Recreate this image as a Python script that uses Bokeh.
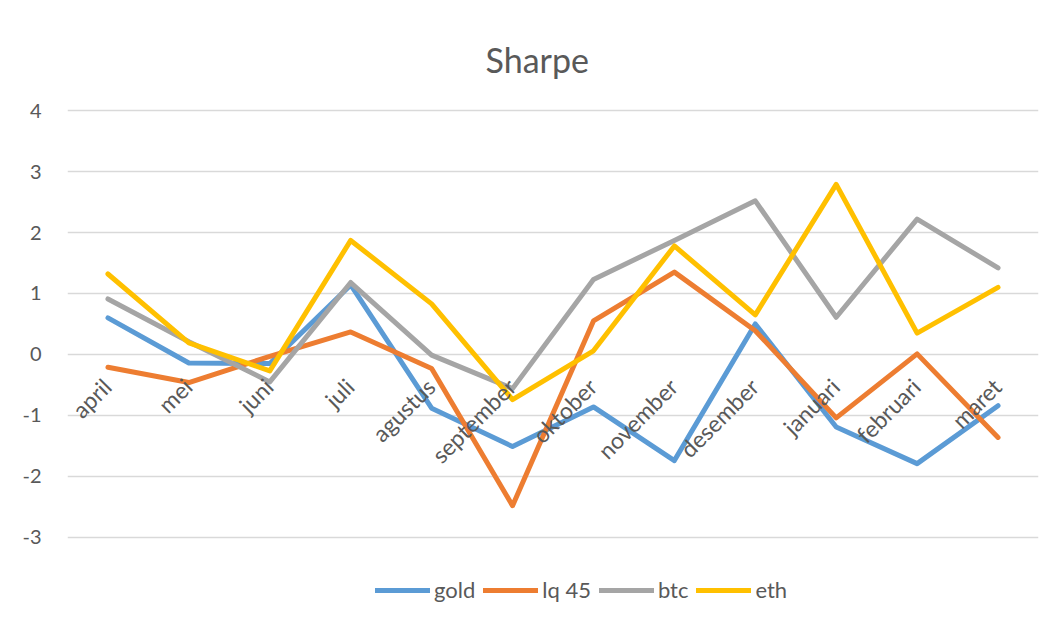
import math
from bokeh.plotting import figure
from bokeh.models import Range1d, FactorRange, Legend, LegendItem, FixedTicker
from bokeh.core.properties import value
from bokeh.embed import file_html
from bokeh.resources import INLINE

months = ["april", "mei", "juni", "juli", "agustus", "september", "oktober",
          "november", "desember", "januari", "februari", "maret"]
gold = [0.60, -0.14, -0.15, 1.14, -0.88, -1.51, -0.86, -1.74, 0.50, -1.19, -1.79, -0.84]
lq45 = [-0.21, -0.46, -0.03, 0.37, -0.23, -2.48, 0.55, 1.35, 0.39, -1.04, 0.01, -1.36]
btc = [0.91, 0.21, -0.45, 1.18, -0.01, -0.56, 1.23, 1.87, 2.52, 0.61, 2.22, 1.42]
eth = [1.32, 0.19, -0.27, 1.87, 0.83, -0.74, 0.06, 1.78, 0.65, 2.79, 0.35, 1.10]
series_names = ["gold", "lq 45", "btc", "eth"]
series_colors = ["#5B9BD5", "#ED7D31", "#A5A5A5", "#FFC000"]
y_ticks = [-3, -2, -1, 0, 1, 2, 3, 4]
axis_cross = 0

FONT = "Lato"
GREY = "#595959"

# frame: 61 px per unit; range extended below -3 to hold the legend
p = figure(width=1042, height=604, x_range=FactorRange(*months),
           y_range=Range1d(-4.1, 4.05), output_backend="svg",
           toolbar_location=None, min_border_left=67, min_border_right=4,
           min_border_top=107, min_border_bottom=0)
p.outline_line_color = None
p.background_fill_color = "white"
p.border_fill_color = "white"

p.title.text = "Sharpe"
p.title.align = "left"
p.title.offset = 418
p.title.text_font = FONT
p.title.text_font_size = "34px"
p.title.text_font_style = "normal"
p.title.text_color = GREY
p.title.standoff = 55

p.xaxis.visible = False
p.xgrid.visible = False
p.yaxis.ticker = FixedTicker(ticks=y_ticks)
p.yaxis.major_label_overrides = {t: str(t) for t in y_ticks}
p.yaxis.axis_line_color = None
p.yaxis.major_tick_line_color = None
p.yaxis.minor_tick_line_color = None
p.yaxis.major_label_text_font = FONT
p.yaxis.major_label_text_font_size = "20px"
p.yaxis.major_label_text_color = GREY
p.yaxis.major_label_standoff = 20
p.ygrid.grid_line_color = "#d9d9d9"
p.ygrid.grid_line_width = 1.5

items = []
for name, vals, col in zip(series_names, [gold, lq45, btc, eth], series_colors):
    r = p.line(months, vals, line_color=col, line_width=5,
               line_cap="round", line_join="round")
    items.append(LegendItem(label=name, renderers=[r]))

p.text(x=months, y=[axis_cross] * len(months), text=months, angle=math.pi / 4,
       text_align="right", text_baseline="middle", x_offset=-1, y_offset=28,
       text_font=value(FONT), text_font_size="23px", text_color=GREY)

legend = Legend(items=items, orientation="horizontal", location=(308, 1),
                glyph_width=55, glyph_height=22, label_standoff=4, spacing=8,
                padding=0, margin=0, border_line_color=None,
                background_fill_alpha=0, label_text_font=FONT,
                label_text_font_size="22px", label_text_color=GREY)
p.add_layout(legend, "center")

open("out.html", "w").write(file_html(p, INLINE))
